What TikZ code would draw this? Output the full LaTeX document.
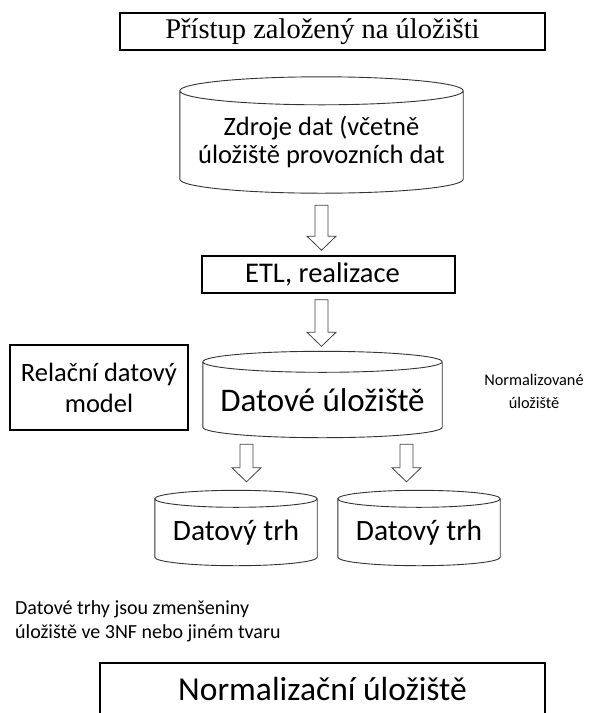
\documentclass[tikz,border=0pt]{standalone}
\usepackage{fontspec}
\setmainfont{Carlito}
\newfontfamily\titlefont{Liberation Serif}
\usetikzlibrary{calc}

\newcommand{\drum}[2]{%
	\draw[drumline] let \p1=(#1.north west), \p2=(#1.south east), \n1={(\x2-\x1)/2} in
		(\x1,\y1+#2pt) -- (\x1,\y2) arc[start angle=180, end angle=360, x radius={\n1*1pt}, y radius=#2pt]
		-- (\x2,\y1+#2pt) arc[start angle=0, end angle=360, x radius={\n1*1pt}, y radius=#2pt];}
\newcommand{\hollowarrow}[2]{%
	\draw[flowarrow] let \p1=(#1), \p2=(#2) in
		(\x1-6.5pt,\y1) -- (\x1-6.5pt,\y2+14pt) -- (\x1-14.5pt,\y2+14pt) -- (\x1,\y2)
		-- (\x1+14.5pt,\y2+14pt) -- (\x1+6.5pt,\y2+14pt) -- (\x1+6.5pt,\y1) -- cycle;}

\begin{document}
\begin{tikzpicture}[x=1pt,y=-1pt,
	framebox/.style={draw,line width=1.5pt,inner sep=0pt,align=center},
	drumbody/.style={inner sep=0pt,align=center},
	drumline/.style={draw=black!80,line width=0.9pt},
	flowarrow/.style={draw=black!75,line width=0.8pt,line join=miter}]
	\useasboundingbox (0,0) rectangle (611,713);
	\clip (0,0) rectangle (611,713);

	\node[framebox,minimum width=425pt,minimum height=37pt,font=\titlefont\fontsize{28.5}{32}\selectfont] (title) at (332.5,31.5) {Přístup založený na úložišti\hspace{20pt}};

	\node[drumbody,minimum width=283pt,minimum height=74pt,font=\fontsize{26.5}{28}\selectfont] (src) at (321.5,142) {Zdroje dat (včetně\\úložiště provozních dat};
	\drum{src}{14}

	\node[framebox,minimum width=253pt,minimum height=37pt,font=\fontsize{28.5}{32}\selectfont] (etl) at (328.5,274.5) {ETL, realizace\hspace{12pt}};

	\node[framebox,line width=2pt,minimum width=178pt,minimum height=85pt,font=\fontsize{26.5}{31}\selectfont] (model) at (99,387.5) {Relační datový\\model};

	\node[drumbody,minimum width=239pt,minimum height=54.5pt,font=\fontsize{33}{36}\selectfont] (dw) at (322.5,399.75) {Datové úložiště};
	\drum{dw}{10.5}

	\node[align=center,font=\fontsize{16.3}{23}\selectfont] (normnote) at (534,391) {Normalizované\\úložiště};

	\node[drumbody,minimum width=162pt,minimum height=49.5pt,font=\fontsize{29.5}{32}\selectfont] (mart1) at (236,532.25) {Datový trh};
	\drum{mart1}{8.5}
	\node[drumbody,minimum width=162pt,minimum height=49.5pt,font=\fontsize{29.5}{32}\selectfont] (mart2) at (419,532.25) {Datový trh};
	\drum{mart2}{8.5}

	\node[align=left,anchor=west,inner sep=0pt,font=\fontsize{20}{24}\selectfont] (martnote) at (15,621) {Datové trhy jsou zmenšeniny\\úložiště ve 3NF nebo jiném tvaru};

	\node[framebox,minimum width=445pt,minimum height=52pt,font=\fontsize{33.5}{36}\selectfont] (norm) at (322.5,689) {Normalizační úložiště};

	\coordinate (a2s) at ($(etl.south -| src.south)+(0,6)$);
	\coordinate (a3s) at ([xshift=-76pt,yshift=-17pt]dw.south);
	\coordinate (a4s) at ([xshift=84pt,yshift=-17pt]dw.south);
	\hollowarrow{[yshift=-26pt]src.south}{[yshift=5pt]etl.north}
	\hollowarrow{a2s}{[yshift=26pt]dw.north}
	\hollowarrow{a3s}{[yshift=25.5pt]mart1.north}
	\hollowarrow{a4s}{[yshift=25.5pt]mart2.north}
\end{tikzpicture}
\end{document}
